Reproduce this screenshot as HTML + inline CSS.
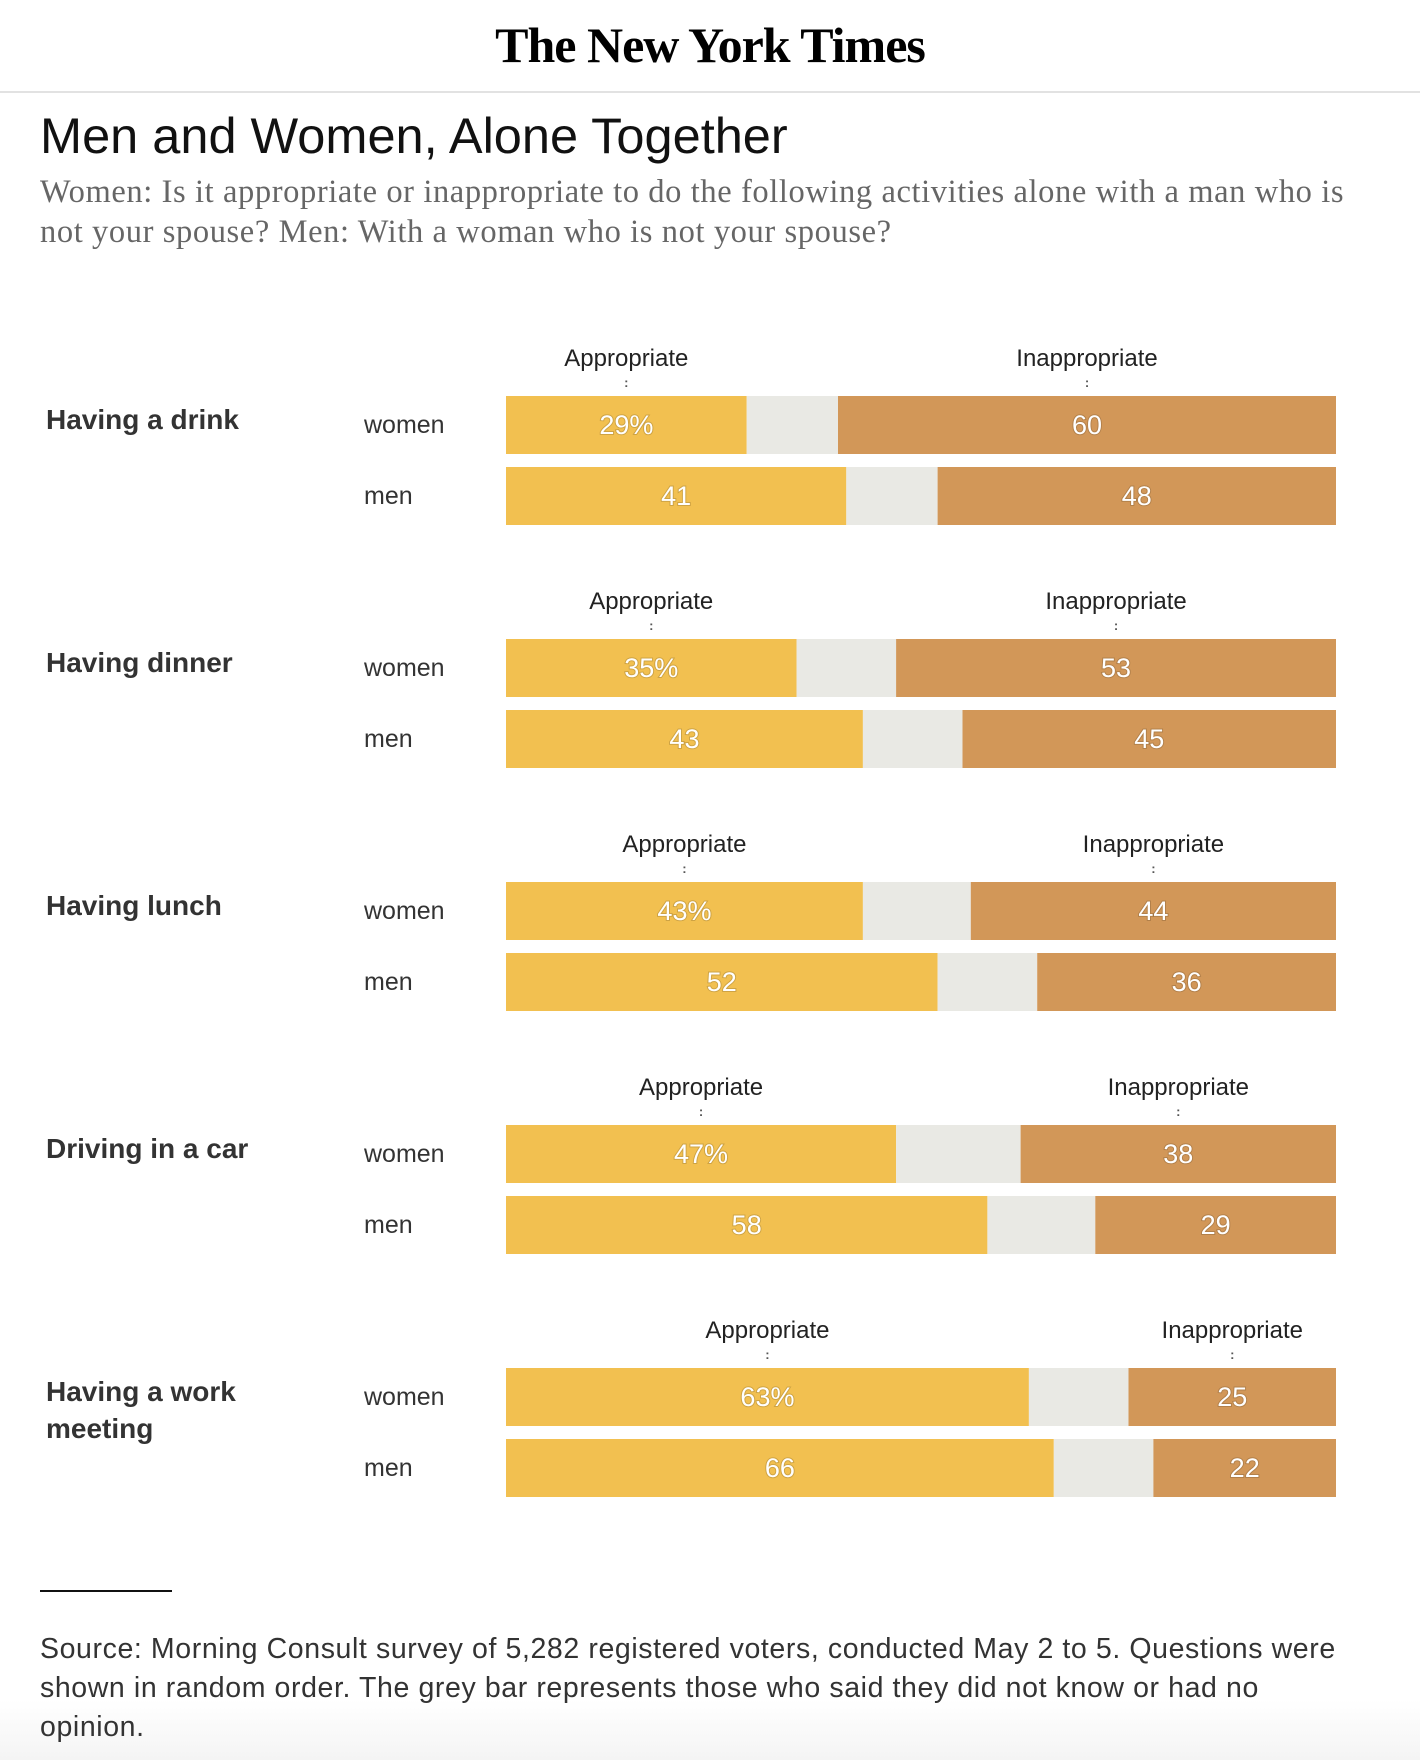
<!DOCTYPE html>
<html><head><meta charset="utf-8">
<style>
html,body{margin:0;padding:0;background:#fff;width:1420px;height:1760px;overflow:hidden;font-family:"Liberation Sans",sans-serif;}
#logo{position:absolute;left:0;width:1420px;top:16px;text-align:center;font-family:"Liberation Serif",serif;font-weight:bold;font-size:50px;color:#000;letter-spacing:-1px;}
#rule{position:absolute;left:0;top:91px;width:1420px;height:2px;background:#e2e2e2;}
#title{position:absolute;left:40px;top:106px;font-size:50.5px;color:#111;}
#sub{position:absolute;left:40px;top:172px;width:1320px;font-family:"Liberation Serif",serif;font-size:32.5px;line-height:40px;color:#666;letter-spacing:0.6px;}
#foot-rule{position:absolute;left:40px;top:1590px;width:132px;height:2px;background:#111;}
#source{position:absolute;left:40px;top:1630px;width:1310px;font-size:28.5px;line-height:39px;color:#333;letter-spacing:0.6px;}
#fade{position:absolute;left:0;top:1700px;width:1420px;height:60px;background:linear-gradient(#fff,#f4f4f4);}
svg{position:absolute;left:0;top:0;}
</style></head><body>
<div id="fade"></div>
<div id="logo">The New York Times</div>
<div id="rule"></div>
<div id="title">Men and Women, Alone Together</div>
<div id="sub">Women: Is it appropriate or inappropriate to do the following activities alone with a man who is<br>not your spouse? Men: With a woman who is not your spouse?</div>
<svg id="chart" width="1420" height="1760"></svg>
<div id="foot-rule"></div>
<div id="source">Source: Morning Consult survey of 5,282 registered voters, conducted May 2 to 5. Questions were<br>shown in random order. The grey bar represents those who said they did not know or had no<br>opinion.</div>
<script>
const activities = ["Having a drink","Having dinner","Having lunch","Driving in a car","Having a work meeting"];
const groups = ["women","men"];
const womenAppropriate = [29,35,43,47,63];
const womenInappropriate = [60,53,44,38,25];
const menAppropriate = [41,43,52,58,66];
const menInappropriate = [48,45,36,29,22];

const svg = document.getElementById('chart');
const NS = 'http://www.w3.org/2000/svg';
const x0 = 506, xw = 830;
const xs = v => x0 + v / 100 * xw;
const groupTop = i => 396 + i * 243;
const rowY = (i, r) => groupTop(i) + r * 71;
const barH = 58;
function mk(tag, attrs, text){
  const e = document.createElementNS(NS, tag);
  for (const k in attrs) e.setAttribute(k, attrs[k]);
  if (text !== undefined) e.textContent = text;
  svg.appendChild(e);
  return e;
}
activities.forEach((act, i) => {
  const gt = groupTop(i);
  const words = act === "Having a work meeting" ? ["Having a work","meeting"] : [act];
  words.forEach((w, k) => {
    const t = mk('text', {x:46, y:gt + 33 + k*37, 'font-size':28, 'font-weight':'bold', fill:'#333'}, w);
    
    
  });
  const rows = [[womenAppropriate[i], womenInappropriate[i]], [menAppropriate[i], menInappropriate[i]]];
  const wa = rows[0][0], wi = rows[0][1];
  const ac = xs(wa / 2), ic = xs(100 - wi / 2);
  [[ac,'Appropriate'],[ic,'Inappropriate']].forEach(([cx, lbl]) => {
    const t = mk('text', {x:cx, y:gt - 30, 'font-size':24, 'text-anchor':'middle', fill:'#222'}, lbl);
    
    
    const d = mk('text', {x:cx, y:gt - 9, 'font-size':13, 'font-weight':'bold', 'text-anchor':'middle', fill:'#555'}, ':');
    
    
  });
  rows.forEach(([a, n], r) => {
    const y = rowY(i, r);
    const g = mk('text', {x:364, y:y + 37, 'font-size':25, fill:'#333'}, groups[r]);
    
    
    const b1 = mk('rect', {x:xs(0), y:y, width:xs(a) - xs(0), height:barH, fill:'#f2c050'});
    
    
    const b2 = mk('rect', {x:xs(a), y:y, width:xs(100 - n) - xs(a), height:barH, fill:'#e9e9e4'});
    
    
    const b3 = mk('rect', {x:xs(100 - n), y:y, width:xs(100) - xs(100 - n), height:barH, fill:'#d29758'});
    
    
    const v1 = mk('text', {x:xs(a / 2), y:y + 38, 'font-size':27, 'text-anchor':'middle', fill:'#fff', style:'paint-order:stroke;stroke:rgba(0,0,0,0.15);stroke-width:2px'}, r === 0 ? a + '%' : String(a));
    
    
    const v2 = mk('text', {x:xs(100 - n / 2), y:y + 38, 'font-size':27, 'text-anchor':'middle', fill:'#fff', style:'paint-order:stroke;stroke:rgba(0,0,0,0.15);stroke-width:2px'}, String(n));
    
    
  });
});
</script>
</body></html>
